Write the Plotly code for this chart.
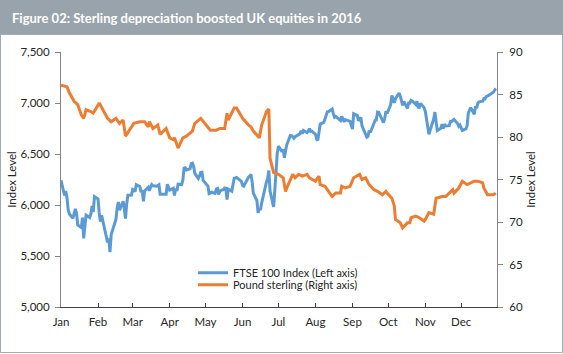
import plotly.graph_objects as go

# ---------------- data ----------------
ftse_dates = [
    "01-01", "01-04", "01-05", "01-06", "01-07", "01-08", "01-11", "01-12", "01-13", "01-14", "01-15",
    "01-18", "01-19", "01-20", "01-21", "01-22", "01-25", "01-26", "01-27", "01-28", "01-29",
    "02-01", "02-02", "02-03", "02-04", "02-05", "02-08", "02-09", "02-10", "02-11", "02-12",
    "02-15", "02-16", "02-17", "02-18", "02-19", "02-22", "02-23", "02-24", "02-25", "02-26", "02-29",
    "03-01", "03-02", "03-03", "03-04", "03-07", "03-08", "03-09", "03-10", "03-11",
    "03-14", "03-15", "03-16", "03-17", "03-18", "03-21", "03-22", "03-23", "03-24", "03-29", "03-30", "03-31",
    "04-01", "04-04", "04-05", "04-06", "04-07", "04-08", "04-11", "04-12", "04-13", "04-14", "04-15",
    "04-18", "04-19", "04-20", "04-21", "04-22", "04-25", "04-26", "04-27", "04-28", "04-29",
    "05-03", "05-04", "05-05", "05-06", "05-09", "05-10", "05-11", "05-12", "05-13",
    "05-16", "05-17", "05-18", "05-19", "05-20", "05-23", "05-24", "05-25", "05-26", "05-27", "05-31",
    "06-01", "06-02", "06-03", "06-06", "06-07", "06-08", "06-09", "06-10", "06-13", "06-14", "06-15",
    "06-16", "06-17", "06-20", "06-21", "06-22", "06-23", "06-24", "06-27", "06-28", "06-29", "06-30",
    "07-01", "07-04", "07-05", "07-06", "07-07", "07-08", "07-11", "07-12", "07-13", "07-14", "07-15",
    "07-18", "07-19", "07-20", "07-21", "07-22", "07-25", "07-26", "07-27", "07-28", "07-29",
    "08-01", "08-02", "08-03", "08-04", "08-05", "08-08", "08-09", "08-10", "08-11", "08-12",
    "08-15", "08-16", "08-17", "08-18", "08-19", "08-22", "08-23", "08-24", "08-25", "08-26", "08-30", "08-31",
    "09-01", "09-02", "09-05", "09-06", "09-07", "09-08", "09-09", "09-12", "09-13", "09-14", "09-15", "09-16",
    "09-19", "09-20", "09-21", "09-22", "09-23", "09-26", "09-27", "09-28", "09-29", "09-30",
    "10-03", "10-04", "10-05", "10-06", "10-07", "10-10", "10-11", "10-12", "10-13", "10-14",
    "10-17", "10-18", "10-19", "10-20", "10-21", "10-24", "10-25", "10-26", "10-27", "10-28", "10-31",
    "11-01", "11-02", "11-03", "11-04", "11-07", "11-08", "11-09", "11-10", "11-11",
    "11-14", "11-15", "11-16", "11-17", "11-18", "11-21", "11-22", "11-23", "11-24", "11-25",
    "11-28", "11-29", "11-30", "12-01", "12-02", "12-05", "12-06", "12-07", "12-08", "12-09",
    "12-12", "12-13", "12-14", "12-15", "12-16", "12-19", "12-20", "12-21", "12-22", "12-23",
    "12-28", "12-29", "12-30",
]
ftse_values = [
    6242, 6093, 6137, 6073, 5954, 5912, 5871, 5929, 5961, 5918, 5804,
    5779, 5876, 5673, 5773, 5900, 5877, 5911, 5990, 5931, 6083,
    6060, 5922, 5837, 5899, 5848, 5689, 5632, 5672, 5537, 5707,
    5824, 5862, 5971, 6030, 5950, 6037, 5962, 5867, 6013, 6096, 6097,
    6153, 6147, 6130, 6199, 6182, 6125, 6146, 6036, 6139,
    6174, 6140, 6175, 6201, 6189, 6184, 6192, 6199, 6106, 6106, 6203, 6175,
    6146, 6164, 6092, 6161, 6137, 6204, 6200, 6242, 6362, 6365, 6343,
    6354, 6405, 6410, 6381, 6310, 6260, 6284, 6320, 6322, 6241,
    6185, 6112, 6117, 6125, 6114, 6156, 6162, 6104, 6138,
    6151, 6167, 6165, 6053, 6156, 6136, 6219, 6262, 6265, 6270, 6231,
    6191, 6185, 6209, 6273, 6284, 6301, 6232, 6116, 6044, 5923, 5966,
    5950, 6021, 6204, 6227, 6261, 6338, 6138, 5982, 6140, 6360, 6504,
    6577, 6522, 6545, 6463, 6533, 6590, 6682, 6680, 6670, 6654, 6669,
    6696, 6697, 6728, 6699, 6730, 6710, 6724, 6750, 6721, 6724,
    6694, 6645, 6634, 6740, 6793, 6809, 6851, 6867, 6914, 6916,
    6941, 6893, 6860, 6868, 6859, 6828, 6868, 6835, 6816, 6838, 6820, 6781,
    6745, 6894, 6879, 6826, 6846, 6858, 6777, 6700, 6665, 6673, 6730, 6710,
    6813, 6831, 6834, 6911, 6909, 6818, 6807, 6850, 6919, 6899,
    6983, 7074, 7034, 7001, 7044, 7097, 7070, 7024, 6977, 7014,
    6948, 7000, 6999, 7026, 7020, 6986, 7017, 6959, 6958, 6996, 6954,
    6917, 6845, 6791, 6693, 6806, 6843, 6911, 6827, 6730,
    6753, 6792, 6749, 6794, 6775, 6778, 6819, 6817, 6829, 6840,
    6799, 6772, 6784, 6752, 6731, 6746, 6779, 6902, 6931, 6955,
    6890, 6968, 6949, 6999, 7011, 7017, 7043, 7041, 7063, 7068,
    7106, 7120, 7143,
]

gbp_dates = [
    "01-01", "01-06", "01-08", "01-11", "01-12", "01-15", "01-18", "01-20", "01-22", "01-26", "01-28",
    "02-02", "02-05", "02-09", "02-12", "02-16", "02-19", "02-22", "02-24", "02-26",
    "03-02", "03-07", "03-11", "03-14", "03-15", "03-18", "03-22", "03-24", "03-29",
    "04-01", "04-04", "04-05", "04-08", "04-12", "04-15", "04-20", "04-22", "04-27",
    "05-02", "05-05", "05-10", "05-13", "05-17", "05-19", "05-20", "05-25", "05-27",
    "06-01", "06-06", "06-08", "06-10", "06-15", "06-17", "06-21", "06-23", "06-24", "06-27", "06-30",
    "07-01", "07-05", "07-07", "07-08", "07-13", "07-15", "07-18", "07-21", "07-25", "07-27", "07-29",
    "08-01", "08-04", "08-05", "08-09", "08-12", "08-15", "08-18", "08-22", "08-23", "08-26", "08-30",
    "09-02", "09-07", "09-09", "09-12", "09-15", "09-19", "09-22", "09-26", "09-29", "09-30",
    "10-04", "10-06", "10-07", "10-11", "10-13", "10-17", "10-19", "10-20", "10-24", "10-27", "10-31",
    "11-01", "11-04", "11-08", "11-10", "11-15", "11-18", "11-21", "11-24", "11-25", "11-29",
    "12-02", "12-06", "12-09", "12-12", "12-15", "12-19", "12-20", "12-23", "12-28", "12-30",
]
gbp_values = [
    86.1, 85.9, 85.2, 84.4, 84.2, 83.8, 82.6, 82.2, 83.2, 83.0, 82.8,
    84.0, 83.2, 82.2, 81.8, 82.2, 81.6, 82.0, 80.1, 80.5,
    81.6, 81.8, 81.8, 81.2, 81.8, 81.0, 81.4, 80.3, 81.0,
    79.9, 79.7, 79.9, 78.7, 79.9, 80.1, 80.7, 81.6, 82.2,
    81.4, 80.8, 80.8, 81.0, 81.0, 82.8, 82.0, 83.4, 83.4,
    82.2, 81.4, 81.2, 80.7, 79.9, 81.4, 83.0, 83.3, 77.5, 75.8, 75.7,
    75.6, 75.2, 73.6, 74.0, 75.6, 75.2, 75.6, 75.4, 75.6, 75.2, 75.0,
    74.8, 75.4, 74.4, 74.2, 73.6, 73.0, 73.4, 73.4, 74.2, 74.0, 74.2,
    75.2, 75.6, 75.0, 75.2, 74.4, 73.8, 73.6, 73.2, 73.6, 73.4,
    72.8, 71.9, 70.3, 69.9, 69.3, 69.9, 69.9, 70.5, 70.7, 70.5, 70.1,
    70.3, 71.1, 70.9, 72.8, 73.0, 73.0, 73.4, 73.8, 73.4, 74.0,
    74.8, 74.4, 74.6, 74.8, 74.8, 74.6, 74.0, 73.2, 73.2, 73.4,
]

left_ticks = [5000, 5500, 6000, 6500, 7000, 7500]
right_ticks = [60, 65, 70, 75, 80, 85, 90]
month_ticks = ["2016-%02d-01" % m for m in range(1, 13)]
month_labels = ["Jan", "Feb", "Mar", "Apr", "May", "Jun", "Jul", "Aug", "Sep", "Oct", "Nov", "Dec"]

title_text = "Figure 02: Sterling depreciation boosted UK equities in 2016"
series_names = ["FTSE 100 Index (Left axis)", "Pound sterling (Right axis)"]

# ---------------- figure ----------------
W, H = 563, 354
ML, MR, MT, MB = 61, 66, 52, 47
PW, PH = W - ML - MR, H - MT - MB

def px_x(p):
    return (p - ML) / PW

def px_y(p):
    return (H - MB - p) / PH

FONT = "Lato, 'Open Sans', sans-serif"
BLUE = "#5B9BD5"
ORANGE = "#ED7D31"
BAR = "#98a3ac"
TXT = "#262626"

fig = go.Figure()
fig.add_trace(go.Scatter(
    x=["2016-" + d for d in ftse_dates], y=ftse_values, name=series_names[0],
    mode="lines", line=dict(color=BLUE, width=3), yaxis="y", legend="legend"))
fig.add_trace(go.Scatter(
    x=["2016-" + d for d in gbp_dates], y=gbp_values, name=series_names[1],
    mode="lines", line=dict(color=ORANGE, width=3), yaxis="y2", legend="legend2"))

legend_common = dict(xanchor="left", yanchor="middle", bgcolor="rgba(0,0,0,0)",
                     font=dict(size=11, color=TXT), itemwidth=30, borderwidth=0)

fig.update_layout(
    width=W, height=H,
    margin=dict(l=ML, r=MR, t=MT, b=MB, pad=0, autoexpand=False),
    paper_bgcolor="white", plot_bgcolor="white",
    font=dict(family=FONT, size=11, color=TXT),
    showlegend=True,
    legend=dict(x=px_x(193), y=px_y(272.7), **legend_common),
    legend2=dict(x=px_x(193), y=px_y(284.7), **legend_common),
    xaxis=dict(type="date", range=["2016-01-01", "2016-12-31"],
               tickvals=month_ticks, ticktext=month_labels,
               ticks="inside", ticklen=4, tickcolor="#404040",
               showline=True, linecolor="#404040", linewidth=1,
               showgrid=False, zeroline=False, ticklabelstandoff=4,
               automargin=False,
               tickfont=dict(size=11.5, color=TXT)),
    yaxis=dict(range=[5000, 7500], tickvals=left_ticks, tickformat=",",
               ticks="outside", ticklen=5, tickcolor="#868686",
               showline=True, linecolor="#868686", linewidth=1,
               showgrid=False, zeroline=False, ticklabelstandoff=3,
               automargin=False,
               tickfont=dict(size=11.5, color=TXT),
               title=dict(text="Index Level", font=dict(size=11.5, color=TXT), standoff=1)),
    yaxis2=dict(range=[60, 90], tickvals=right_ticks, overlaying="y", side="right",
                ticks="outside", ticklen=5, tickcolor="#868686",
                showline=True, linecolor="#868686", linewidth=1,
                showgrid=False, zeroline=False, ticklabelstandoff=4,
                automargin=False,
                tickfont=dict(size=11.5, color=TXT),
                title=dict(text="Index Level", font=dict(size=11.5, color=TXT), standoff=4)),
    shapes=[
        dict(type="rect", xref="paper", yref="paper", layer="below",
             x0=px_x(-2), x1=px_x(W + 2), y0=px_y(35), y1=px_y(-2),
             fillcolor=BAR, line=dict(width=0)),
        dict(type="rect", xref="paper", yref="paper", layer="below",
             x0=px_x(0.5), x1=px_x(W - 0.5), y0=px_y(H - 1.5), y1=px_y(34.5),
             fillcolor="rgba(0,0,0,0)", line=dict(color="#a3abb2", width=1)),
    ],
    annotations=[
        dict(text="<b>" + title_text + "</b>", xref="paper", yref="paper",
             x=px_x(10), y=px_y(18), xanchor="left", yanchor="middle",
             showarrow=False, font=dict(family=FONT, size=13, color="white")),
    ],
)

fig.write_html("out.html")
